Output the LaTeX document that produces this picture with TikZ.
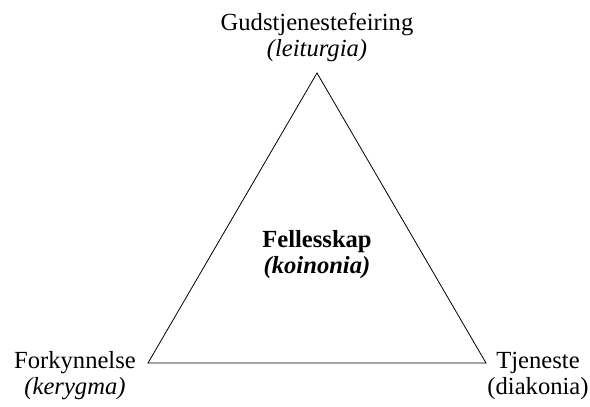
\documentclass[tikz,border=0pt]{standalone}
\usepackage{fontspec}
\setmainfont{Liberation Serif}
\usepackage{tikz}
\usetikzlibrary{positioning}

\begin{document}
\begin{tikzpicture}[x=0.5pt,y=0.5pt,font=\fontsize{12.3}{13}\selectfont,
  lbl/.style={align=center,inner sep=0pt}]
\useasboundingbox (0,0) rectangle (590,407);
% triangle corners
\coordinate (top) at (317,334);
\coordinate (left) at (148,44);
\coordinate (right) at (486,44);
\draw[line width=0.4pt] (top) -- (left) -- (right) -- cycle;
\node[lbl] (leiturgia) at (317,370) {Gudstjenestefeiring\\ \textit{(leiturgia)}};
\node[lbl] (koinonia) at (317,152) {\textbf{Fellesskap}\\ \textbf{\textit{(koinonia)}}};
\node[lbl] (kerygma) at (75,31) {Forkynnelse\\ \textit{(kerygma)}};
\node[lbl] (diakonia) at (538,31) {Tjeneste\\ (diakonia)};
\end{tikzpicture}
\end{document}
